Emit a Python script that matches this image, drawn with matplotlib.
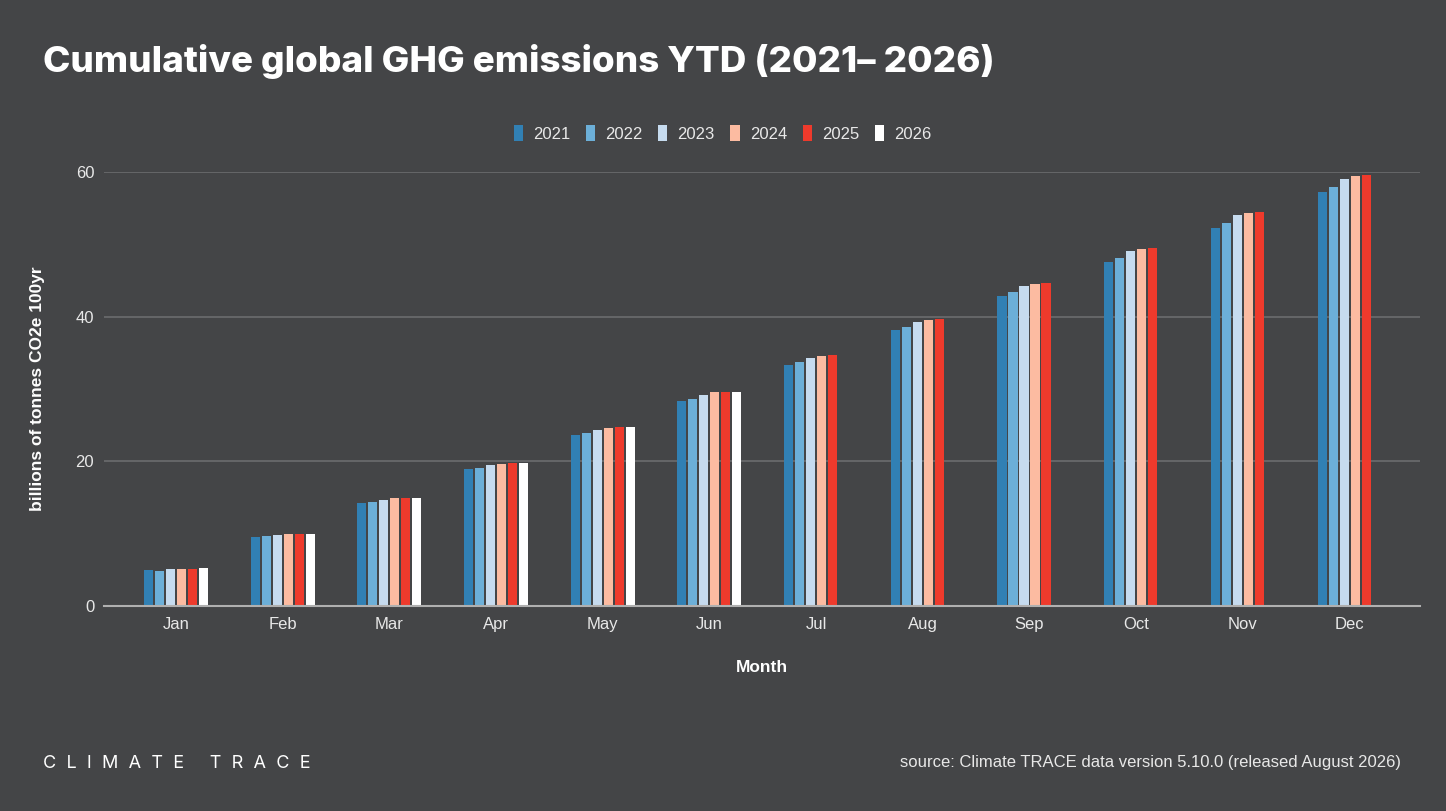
import numpy as np
import matplotlib
matplotlib.use("Agg")
import matplotlib.pyplot as plt

plt.rcParams['font.family'] = ['Liberation Sans', 'DejaVu Sans']

months = ['Jan', 'Feb', 'Mar', 'Apr', 'May', 'Jun', 'Jul', 'Aug', 'Sep', 'Oct', 'Nov', 'Dec']
years = ['2021', '2022', '2023', '2024', '2025', '2026']
nan = np.nan
y2021 = [4.92, 9.52, 14.26, 18.99, 23.59, 28.35, 33.29, 38.17, 42.83, 47.5, 52.3, 57.2]
y2022 = [4.9, 9.66, 14.4, 19.13, 23.86, 28.67, 33.7, 38.6, 43.34, 48.07, 52.88, 57.9]
y2023 = [5.06, 9.79, 14.67, 19.54, 24.28, 29.23, 34.26, 39.3, 44.17, 49.1, 53.98, 59.0]
y2024 = [5.06, 9.93, 14.95, 19.68, 24.55, 29.55, 34.58, 39.56, 44.49, 49.38, 54.26, 59.47]
y2025 = [5.06, 9.93, 14.95, 19.82, 24.69, 29.64, 34.72, 39.7, 44.58, 49.47, 54.4, 59.57]
y2026 = [5.19, 9.93, 14.95, 19.82, 24.69, 29.64, nan, nan, nan, nan, nan, nan]
series = [y2021, y2022, y2023, y2024, y2025, y2026]
colors = ['#3180b4', '#6cafd8', '#c6dbef', '#fcbba1', '#ee3a2c', '#ffffff']

bg = '#444547'
txt = '#e8e8e8'

fig = plt.figure(figsize=(14.46, 8.11), dpi=100, facecolor=bg)
ax = fig.add_axes([0.0719, 0.2528, 0.9101, 0.5352])
ax.set_facecolor(bg)

x = np.arange(len(months))
step = 0.103
w = 0.085
for i, (yr, vals, c) in enumerate(zip(years, series, colors)):
    ax.bar(x + (i - 2.5) * step, vals, width=w, color=c, label=yr, zorder=3)

ax.set_xlim(-0.675, 11.66)
ax.set_ylim(0, 60)
ax.set_yticks([0, 20, 40, 60])
ax.set_xticks(x)
ax.set_xticklabels(months)
ax.grid(axis='y', color='#6b6c6e', linewidth=1.2, zorder=0)
for s in ['top', 'right', 'left']:
    ax.spines[s].set_visible(False)
ax.spines['bottom'].set_color('#b0b0b0')
ax.spines['bottom'].set_linewidth(1.5)
ax.spines['bottom'].set_zorder(4)
ax.tick_params(axis='both', length=0, colors=txt, labelsize=12)
ax.tick_params(axis='y', pad=7)
ax.tick_params(axis='x', pad=8)

ax.set_ylabel('billions of tonnes CO2e 100yr', color='white', fontsize=12.5,
              fontweight='bold', labelpad=22)
ax.set_xlabel('Month', color='white', fontsize=12.5, fontweight='bold', labelpad=20)

leg = ax.legend(loc='lower center', bbox_to_anchor=(0.470, 1.035), ncol=6, frameon=False,
                fontsize=12, handlelength=0.55, handleheight=1.1, handletextpad=0.6,
                columnspacing=0.95, labelcolor=txt)

fig.text(0.030, 0.924, 'Cumulative global GHG emissions YTD (2021– 2026)', color='white',
         fontsize=26.5, fontweight='heavy', va='center', ha='left', family=['Inter', 'DejaVu Sans'])
fig.text(0.030, 0.059, 'C  L  I  M  A  T  E     T  R  A  C  E', color='white', fontsize=13,
         va='center', ha='left', family=['Inter', 'DejaVu Sans'])
fig.text(0.969, 0.060, 'source: Climate TRACE data version 5.10.0 (released August 2026)',
         color=txt, fontsize=12, va='center', ha='right')

fig.savefig('out.png', dpi=100, facecolor=bg)
